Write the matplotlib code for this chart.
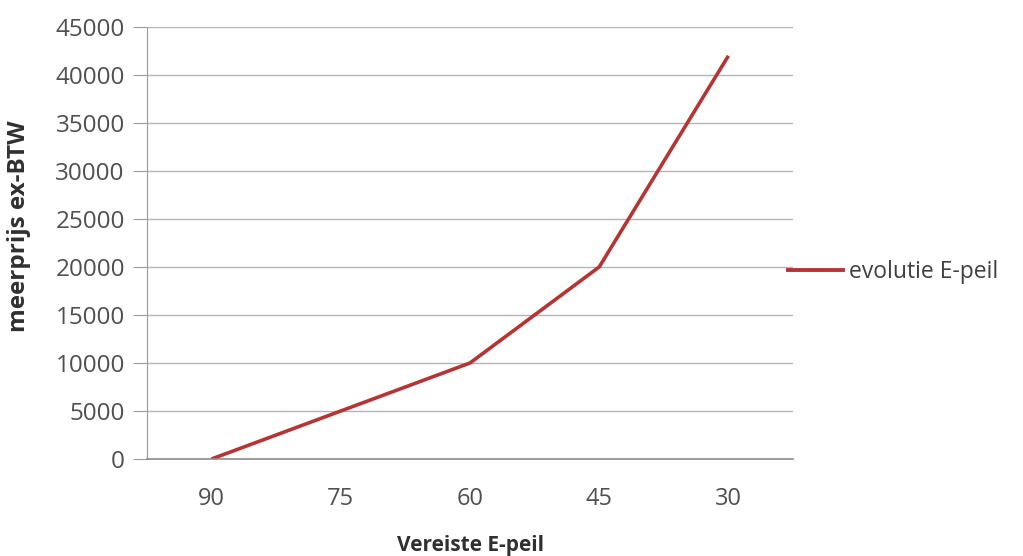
import matplotlib
matplotlib.use("Agg")
import matplotlib.pyplot as plt
from matplotlib.lines import Line2D

# E-level requirement (category axis) and extra cost excl. VAT
categories = ["90", "75", "60", "45", "30"]
meerprijs = [0, 5000, 10000, 20000, 42000]
y_ticks = [0, 5000, 10000, 15000, 20000, 25000, 30000, 35000, 40000, 45000]
series_name = "evolutie E-peil"

plt.rcParams["font.family"] = ["Open Sans", "DejaVu Sans"]

fig = plt.figure(figsize=(10.23, 5.56), dpi=100)
ax = fig.add_axes([0.1437, 0.1745, 0.6315, 0.777])

x = list(range(len(categories)))
line_color = "#B53535"
ax.plot(x, meerprijs, color=line_color, linewidth=2.6, solid_capstyle="butt")

ax.set_xlim(-0.5, len(categories) - 0.5)
ax.set_ylim(0, 45000)
ax.set_xticks(x)
ax.set_xticklabels(categories)
ax.set_yticks(y_ticks)
ax.set_yticklabels([str(v) for v in y_ticks])

ax.grid(axis="y", color="#B4B4B4", linewidth=1.0)
ax.set_axisbelow(True)
for side in ("top", "right"):
    ax.spines[side].set_visible(False)
ax.spines["left"].set_color("#9A9A9A")
ax.spines["bottom"].set_color("#8C8C8C")
ax.spines["bottom"].set_linewidth(1.2)

ax.tick_params(axis="y", length=10, color="#9A9A9A", labelsize=17.5,
               labelcolor="#505050", pad=6)
ax.tick_params(axis="x", length=0, labelsize=17, labelcolor="#505050", pad=20)

ax.set_ylabel("meerprijs ex-BTW", fontsize=17.5, fontweight="bold",
              color="#303030")
ax.yaxis.set_label_coords(-0.18, 0.54)
ax.set_xlabel("Vereiste E-peil", fontsize=15, fontweight="bold",
              color="#303030")
ax.xaxis.set_label_coords(0.5, -0.176)

handle = Line2D([0], [0], color=line_color, linewidth=2.8)
fig.legend([handle], [series_name], loc="center left",
           bbox_to_anchor=(0.750, 0.511), frameon=False, fontsize=16.5,
           handlelength=2.4, handletextpad=0.25, labelcolor="#404040")

fig.savefig("out.png", dpi=100)
